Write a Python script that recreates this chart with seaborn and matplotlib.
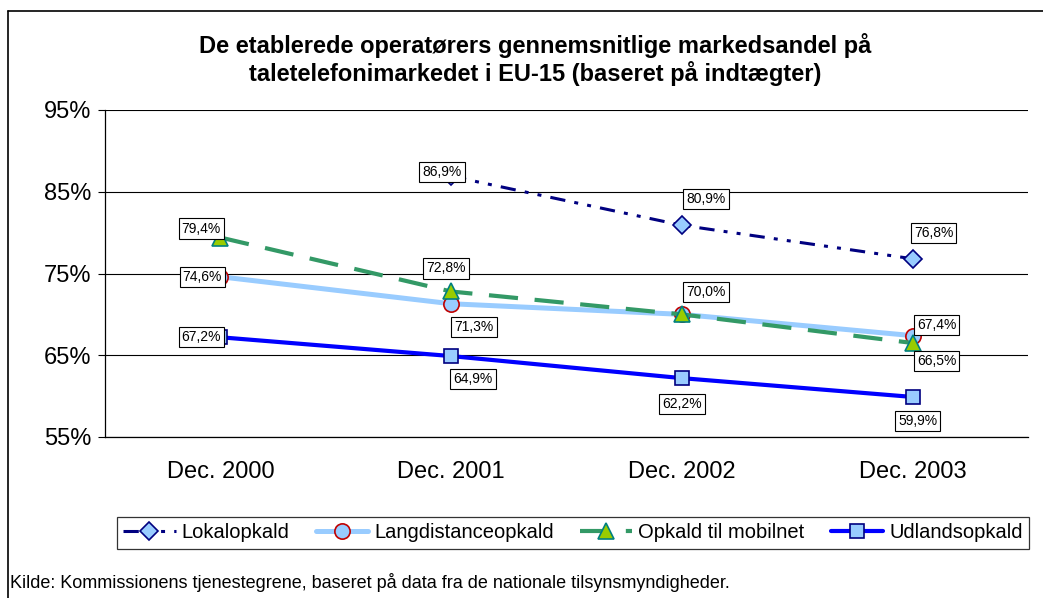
import numpy as np
import pandas as pd
import matplotlib
matplotlib.use("Agg")
import matplotlib.pyplot as plt
import seaborn as sns
from matplotlib.lines import Line2D

# Data
kategorier = ["Dec. 2000", "Dec. 2001", "Dec. 2002", "Dec. 2003"]
lokalopkald = [np.nan, 86.9, 80.9, 76.8]
langdistance = [74.6, 71.3, 70.0, 67.4]
mobilnet = [79.4, 72.8, 70.0, 66.5]
udland = [67.2, 64.9, 62.2, 59.9]
y_ticks = [55, 65, 75, 85, 95]

sns.set_theme(style="white")
plt.rcParams["font.family"] = ["Liberation Sans", "DejaVu Sans"]
plt.rcParams["text.color"] = "black"
plt.rcParams["xtick.color"] = "black"
plt.rcParams["ytick.color"] = "black"

fig = plt.figure(figsize=(10.43, 5.98), dpi=100)
ax = fig.add_axes([105 / 1043, 1 - 437 / 598, (1028 - 105) / 1043, (437 - 110) / 598])

x = np.arange(len(kategorier))

serier = [
    ("Lokalopkald", lokalopkald,
     dict(color="#000080", lw=2.2, linestyle=(0, (5, 3, 1.3, 3, 1.3, 3)),
          marker="D", markersize=9.5, markerfacecolor="#99CCFF", markeredgecolor="#000080",
          markeredgewidth=1.2)),
    ("Langdistanceopkald", langdistance,
     dict(color="#99CCFF", lw=3.6, linestyle="-",
          marker="o", markersize=11, markerfacecolor="#99CCFF", markeredgecolor="#C00000",
          markeredgewidth=1.2)),
    ("Opkald til mobilnet", mobilnet,
     dict(color="#339966", lw=3.0, linestyle=(0, (7, 4)),
          marker="^", markersize=11, markerfacecolor="#99CC00", markeredgecolor="#008080",
          markeredgewidth=1.2)),
    ("Udlandsopkald", udland,
     dict(color="#0000FF", lw=3.0, linestyle="-",
          marker="s", markersize=10, markerfacecolor="#99CCFF", markeredgecolor="#000080",
          markeredgewidth=1.2)),
]

for navn, vals, stil in serier:
    df = pd.DataFrame({"x": x, "y": vals}).dropna()
    sns.lineplot(data=df, x="x", y="y", ax=ax, label=navn, zorder=3, **stil)

# data labels: offsets in pixels (dx, dy) relative to the point
offsets = {
    "Lokalopkald": [None, (-9, 4), (24, 26), (21, 26)],
    "Langdistanceopkald": [(-18, 0), (23, -23), (24, 22), (24, 11)],
    "Opkald til mobilnet": [(-19, 9), (-5, 23), None, (24, -18)],
    "Udlandsopkald": [(-19, 0), (22, -23), (0, -26), (5, -24)],
}
for navn, vals, stil in serier:
    for i, v in enumerate(vals):
        off = offsets[navn][i]
        if off is None or np.isnan(v):
            continue
        tekst = f"{v:.1f}".replace(".", ",") + "%"
        ax.annotate(tekst, (x[i], v), xytext=(off[0] * 0.72, off[1] * 0.72),
                    textcoords="offset points", ha="center", va="center",
                    fontsize=10, zorder=10,
                    bbox=dict(boxstyle="square,pad=0.22", fc="white", ec="black", lw=0.8))

ax.set_xlim(-0.5, len(kategorier) - 0.5)
ax.set_ylim(55, 95)
ax.set_yticks(y_ticks)
ax.set_yticklabels([f"{t}%" for t in y_ticks], fontsize=17)
ax.set_xticks(x)
ax.set_xticklabels(kategorier, fontsize=17)
ax.set_xticks(np.arange(-0.5, len(kategorier)), minor=True)
ax.tick_params(axis="x", which="major", length=0, pad=17)
ax.tick_params(axis="x", which="minor", length=5, width=0.8, color="black", direction="out")
ax.tick_params(axis="y", length=5, width=0.8, color="black", direction="out", left=True, pad=5)
ax.set_xlabel("")
ax.set_ylabel("")
ax.grid(axis="y", color="black", lw=0.8)
ax.grid(axis="x", visible=False)
for side in ["top", "right"]:
    ax.spines[side].set_visible(False)
for side in ["left", "bottom"]:
    ax.spines[side].set_color("black")
    ax.spines[side].set_linewidth(0.9)

fig.text(535 / 1043, 1 - 60 / 598,
         "De etablerede operatørers gennemsnitlige markedsandel på\n"
         "taletelefonimarkedet i EU-15 (baseret på indtægter)",
         ha="center", va="center", fontsize=17, fontweight="bold", linespacing=1.15)

leg = ax.legend(loc="center", bbox_to_anchor=(573 / 1043, 1 - 533 / 598),
                bbox_transform=fig.transFigure, ncol=4, frameon=True, fancybox=False,
                edgecolor="black", fontsize=14.5, handlelength=2.6, columnspacing=1.3,
                handletextpad=0.3, borderpad=0.3)
leg.get_frame().set_linewidth(0.9)

fig.text(10 / 1043, 1 - 583 / 598,
         "Kilde: Kommissionens tjenestegrene, baseret på data fra de nationale tilsynsmyndigheder.",
         ha="left", va="center", fontsize=13)

# outer chart border (left and top visible)
fig.add_artist(Line2D([8 / 1043, 8 / 1043], [0, 1 - 11 / 598], color="black", lw=1.2,
                      transform=fig.transFigure))
fig.add_artist(Line2D([8 / 1043, 1], [1 - 11 / 598, 1 - 11 / 598], color="black", lw=1.2,
                      transform=fig.transFigure))

fig.savefig("out.png", dpi=100)
